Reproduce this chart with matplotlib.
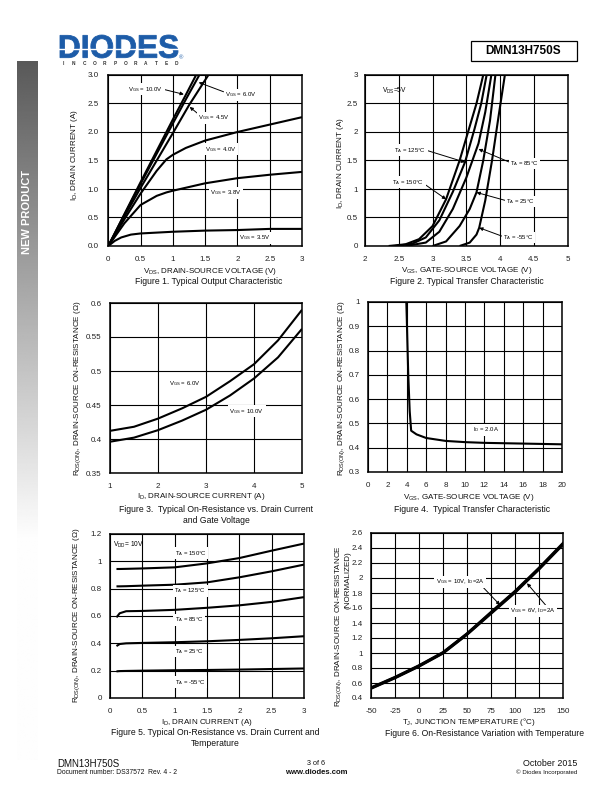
import numpy as np
import matplotlib
matplotlib.use('Agg')
import matplotlib.pyplot as plt
from matplotlib.textpath import TextPath
from matplotlib.patches import PathPatch, Rectangle
from matplotlib.font_manager import FontProperties
from matplotlib.transforms import Affine2D
from matplotlib.ticker import FormatStrFormatter

plt.rcParams['font.family'] = ['Liberation Sans', 'DejaVu Sans']
plt.rcParams['mathtext.default'] = 'regular'

# ---------------- DATA ----------------
# Figure 1: output characteristic (VDS -> ID)
f1_vds_10 = [0, 0.25, 0.5, 0.75, 1.0, 1.2, 1.36]
f1_id_10 = [0, 0.56, 1.12, 1.67, 2.22, 2.65, 3.0]
f1_vds_6 = [0, 0.25, 0.5, 0.75, 1.0, 1.2, 1.41]
f1_id_6 = [0, 0.55, 1.09, 1.62, 2.15, 2.57, 3.0]
f1_vds_45 = [0, 0.25, 0.5, 0.75, 1.0, 1.25, 1.55]
f1_id_45 = [0, 0.52, 1.02, 1.5, 1.98, 2.47, 3.0]
f1_vds_40 = [0, 0.25, 0.5, 0.75, 0.9, 1.0, 1.2, 1.5, 2.0, 2.5, 3.0]
f1_id_40 = [0, 0.47, 0.92, 1.32, 1.52, 1.6, 1.72, 1.85, 2.0, 2.13, 2.26]
f1_vds_38 = [0, 0.25, 0.5, 0.75, 0.9, 1.0, 1.5, 2.0, 2.5, 3.0]
f1_id_38 = [0, 0.4, 0.72, 0.88, 0.94, 0.97, 1.1, 1.19, 1.25, 1.3]
f1_vds_35 = [0, 0.1, 0.2, 0.35, 0.5, 1.0, 1.5, 2.0, 2.5, 3.0]
f1_id_35 = [0, 0.09, 0.15, 0.2, 0.22, 0.25, 0.27, 0.28, 0.3, 0.3]

# Figure 2: transfer characteristic (VGS -> ID)
f2_vgs_150 = [2.35, 2.6, 2.8, 3.0, 3.2, 3.4, 3.55, 3.65, 3.75]
f2_id_150 = [0, 0.03, 0.12, 0.35, 0.82, 1.5, 2.1, 2.5, 3.0]
f2_vgs_125 = [2.45, 2.7, 2.9, 3.1, 3.3, 3.48, 3.62, 3.72, 3.8]
f2_id_125 = [0, 0.04, 0.15, 0.45, 0.95, 1.47, 2.05, 2.5, 3.0]
f2_vgs_85 = [2.6, 2.9, 3.1, 3.3, 3.5, 3.68, 3.78, 3.87]
f2_id_85 = [0, 0.06, 0.25, 0.65, 1.2, 1.8, 2.35, 3.0]
f2_vgs_25 = [3.0, 3.2, 3.4, 3.55, 3.65, 3.75, 3.85, 3.93]
f2_id_25 = [0, 0.08, 0.35, 0.65, 0.94, 1.5, 2.2, 3.0]
f2_vgs_m55 = [3.4, 3.55, 3.65, 3.69, 3.78, 3.88, 3.98, 4.07]
f2_id_m55 = [0, 0.06, 0.2, 0.32, 0.8, 1.5, 2.3, 3.0]

# Figure 3: RDS(on) vs ID
f3_id = [1, 1.5, 2, 2.5, 3, 3.5, 4, 4.5, 5]
f3_r_6v = [0.412, 0.418, 0.43, 0.445, 0.462, 0.485, 0.51, 0.545, 0.59]
f3_r_10v = [0.396, 0.402, 0.413, 0.427, 0.443, 0.464, 0.489, 0.52, 0.562]

# Figure 4: RDS(on) vs VGS
f4_vgs = [3.95, 4.0, 4.05, 4.15, 4.3, 4.45, 5, 6, 8, 10, 12, 16, 20]
f4_r = [1.0, 0.93, 0.85, 0.7, 0.55, 0.47, 0.455, 0.44, 0.428, 0.423, 0.42, 0.417, 0.414]

# Figure 5: RDS(on) vs ID and temperature
f5_id = [0.1, 0.15, 0.25, 0.5, 1.0, 1.5, 2.0, 2.5, 3.0]
f5_r_150 = [0.944, 0.944, 0.945, 0.948, 0.956, 0.985, 1.024, 1.078, 1.13]
f5_r_125 = [0.817, 0.817, 0.818, 0.822, 0.829, 0.846, 0.883, 0.927, 0.976]
f5_r_85 = [0.59, 0.62, 0.635, 0.637, 0.645, 0.66, 0.678, 0.703, 0.738]
f5_r_25 = [0.38, 0.395, 0.4, 0.403, 0.408, 0.415, 0.425, 0.437, 0.452]
f5_r_m55 = [0.195, 0.197, 0.198, 0.2, 0.203, 0.205, 0.208, 0.212, 0.216]

# Figure 6: normalized RDS(on) vs temperature
f6_tj = [-50, -25, 0, 25, 50, 75, 100, 125, 150]
f6_r_10v = [0.53, 0.67, 0.825, 1.0, 1.25, 1.53, 1.81, 2.12, 2.45]
f6_r_6v = [0.535, 0.675, 0.83, 1.005, 1.255, 1.54, 1.82, 2.13, 2.46]

# tick values
f1_xt = [0, 0.5, 1, 1.5, 2, 2.5, 3]
f1_yt = [0, 0.5, 1, 1.5, 2, 2.5, 3]
f2_xt = [2, 2.5, 3, 3.5, 4, 4.5, 5]
f2_yt = [0, 0.5, 1, 1.5, 2, 2.5, 3]
f3_xt = [1, 2, 3, 4, 5]
f3_yt = [0.35, 0.4, 0.45, 0.5, 0.55, 0.6]
f4_xt = [0, 2, 4, 6, 8, 10, 12, 14, 16, 18, 20]
f4_yt = [0.3, 0.4, 0.5, 0.6, 0.7, 0.8, 0.9, 1.0]
f5_xt = [0, 0.5, 1, 1.5, 2, 2.5, 3]
f5_yt = [0, 0.2, 0.4, 0.6, 0.8, 1.0, 1.2]
f6_xt = [-50, -25, 0, 25, 50, 75, 100, 125, 150]
f6_yt = [0.4, 0.6, 0.8, 1.0, 1.2, 1.4, 1.6, 1.8, 2.0, 2.2, 2.4, 2.6]

# ---------------- FIGURE ----------------
W, H = 612, 792
fig = plt.figure(figsize=(6.12, 7.92), dpi=100)
bg = fig.add_axes([0, 0, 1, 1], zorder=0)
bg.axis('off')


def add_ax(l, t, r, b):
    return fig.add_axes([l / W, 1 - b / H, (r - l) / W, (b - t) / H], zorder=2)


def style(ax, xlim, ylim, xt, yt, yfmt='%g', ypad=5):
    ax.set_xlim(xlim)
    ax.set_ylim(ylim)
    ax.set_xticks(xt)
    ax.set_yticks(yt)
    ax.xaxis.set_major_formatter(FormatStrFormatter('%g'))
    ax.yaxis.set_major_formatter(FormatStrFormatter(yfmt))
    ax.grid(True, color='k', lw=0.8)
    ax.set_axisbelow(True)
    ax.tick_params(length=0, labelsize=5.8, labelcolor='#222')
    ax.tick_params(axis='x', pad=7)
    ax.tick_params(axis='y', pad=ypad)
    for s in ax.spines.values():
        s.set_linewidth(1.1)


CURVE = dict(color='k', lw=1.5, solid_capstyle='butt')
LBL = dict(fontsize=4.3, ha='center', va='center',
           bbox=dict(fc='white', ec='none', pad=1.0))


def arrow(relpos):
    return dict(arrowstyle='-|>', color='k', lw=0.7, mutation_scale=5,
                relpos=relpos, shrinkA=0, shrinkB=0)


# ---- Figure 1
a1 = add_ax(108.3, 75, 302, 246)
style(a1, (0, 3), (0, 3), f1_xt, f1_yt, '%.1f', ypad=7)
for xs, ys in [(f1_vds_10, f1_id_10), (f1_vds_6, f1_id_6), (f1_vds_45, f1_id_45),
               (f1_vds_40, f1_id_40), (f1_vds_38, f1_id_38), (f1_vds_35, f1_id_35)]:
    a1.plot(xs, ys, **CURVE)
a1.annotate('V$_{GS}$ = 10.0V', xy=(1.17, 2.66), xytext=(0.58, 2.75), arrowprops=arrow((1, 0.5)), **LBL)
a1.annotate('V$_{GS}$ = 6.0V', xy=(1.40, 2.87), xytext=(2.05, 2.65), arrowprops=arrow((0, 0.8)), **LBL)
a1.annotate('V$_{GS}$ = 4.5V', xy=(1.26, 2.44), xytext=(1.64, 2.25), arrowprops=arrow((0, 0.9)), **LBL)
a1.text(1.74, 1.70, 'V$_{GS}$ = 4.0V', **LBL)
a1.text(1.82, 0.93, 'V$_{GS}$ = 3.8V', **LBL)
a1.text(2.27, 0.14, 'V$_{GS}$ = 3.5V', **LBL)

# ---- Figure 2
a2 = add_ax(365, 75, 567.7, 246)
style(a2, (2, 5), (0, 3), f2_xt, f2_yt, ypad=5)
for xs, ys in [(f2_vgs_150, f2_id_150), (f2_vgs_125, f2_id_125), (f2_vgs_85, f2_id_85),
               (f2_vgs_25, f2_id_25), (f2_vgs_m55, f2_id_m55)]:
    a2.plot(xs, ys, **CURVE)
a2.text(2.25, 2.72, 'V$_{DS}$=5V', fontsize=4.8, ha='left', va='center')
a2.annotate('T$_A$ = 125°C', xy=(3.48, 1.47), xytext=(2.67, 1.68), arrowprops=arrow((1, 0.5)), **LBL)
a2.annotate('T$_A$ = 150°C', xy=(3.2, 0.82), xytext=(2.64, 1.12), arrowprops=arrow((1, 0.3)), **LBL)
a2.annotate('T$_A$ = 85°C', xy=(3.68, 1.70), xytext=(4.36, 1.45), arrowprops=arrow((0, 0.6)), **LBL)
a2.annotate('T$_A$ = 25°C', xy=(3.65, 0.94), xytext=(4.30, 0.78), arrowprops=arrow((0, 0.6)), **LBL)
a2.annotate('T$_A$ = -55°C', xy=(3.69, 0.32), xytext=(4.27, 0.15), arrowprops=arrow((0, 0.6)), **LBL)

# ---- Figure 3
a3 = add_ax(110, 303, 302, 473)
style(a3, (1, 5), (0.35, 0.6), f3_xt, f3_yt, ypad=6)
a3.plot(f3_id, f3_r_6v, **CURVE)
a3.plot(f3_id, f3_r_10v, **CURVE)
a3.text(2.55, 0.482, 'V$_{GS}$ = 6.0V', **LBL)
a3.text(3.85, 0.441, 'V$_{GS}$ = 10.0V', **LBL)

# ---- Figure 4
a4 = add_ax(368, 302, 562, 472)
style(a4, (0, 20), (0.3, 1.0), f4_xt, f4_yt, ypad=6)
a4.plot(f4_vgs, f4_r, **CURVE)
a4.text(12.2, 0.473, 'I$_D$ = 2.0A', **LBL)

# ---- Figure 5
a5 = add_ax(110, 534, 304, 698)
style(a5, (0, 3), (0, 1.2), f5_xt, f5_yt, ypad=6)
for ys in [f5_r_150, f5_r_125, f5_r_85, f5_r_25, f5_r_m55]:
    a5.plot(f5_id, ys, **CURVE)
a5.text(0.05, 1.12, 'V$_{DD}$= 10V', fontsize=4.8, ha='left', va='center')
a5.text(1.25, 1.06, 'T$_A$ = 150°C', **LBL)
a5.text(1.24, 0.785, 'T$_A$ = 125°C', **LBL)
a5.text(1.22, 0.573, 'T$_A$ = 85°C', **LBL)
a5.text(1.23, 0.341, 'T$_A$ = 25°C', **LBL)
a5.text(1.24, 0.115, 'T$_A$ = -55°C', **LBL)

# ---- Figure 6
a6 = add_ax(371, 533, 563, 698)
style(a6, (-50, 150), (0.4, 2.6), f6_xt, f6_yt, ypad=6)
a6.plot(f6_tj, f6_r_10v, color='k', lw=2.2)
a6.plot(f6_tj, f6_r_6v, color='k', lw=2.2)
a6.annotate('V$_{GS}$ = 10V, I$_D$=2A', xy=(84.4, 1.64), xytext=(42.7, 1.95), arrowprops=arrow((0.95, 0)), **LBL)
a6.annotate('V$_{GS}$ = 6V, I$_D$=2A', xy=(112.5, 1.93), xytext=(119, 1.56), arrowprops=arrow((0.8, 1)), **LBL)

# ---- axis labels & captions (page pixel coordinates)
AX = dict(fontsize=5.8, ha='center', va='center', color='#111')
CAP = dict(fontsize=6.2, ha='center', va='center', color='#111')
bg.text(210, 271.5, 'V$_{DS}$, DRAIN-SOURCE VOLTAGE (V)', **AX)
bg.text(209, 282, 'Figure 1. Typical Output Characteristic', **CAP)
bg.text(75, 155, 'I$_D$, DRAIN CURRENT (A)', rotation=90, **AX)

bg.text(467, 270.5, 'V$_{GS}$, GATE-SOURCE VOLTAGE (V)', **AX)
bg.text(467, 281, 'Figure 2. Typical Transfer Characteristic', **CAP)
bg.text(340, 163, 'I$_D$, DRAIN CURRENT (A)', rotation=90, **AX)

bg.text(201, 497, 'I$_D$, DRAIN-SOURCE CURRENT (A)', **AX)
bg.text(216, 515, 'Figure 3.  Typical On-Resistance vs. Drain Current\nand Gate Voltage', linespacing=1.25, **CAP)
bg.text(78, 388, 'R$_{DS(ON)}$, DRAIN-SOURCE ON-RESISTANCE (Ω)', rotation=90, **AX)

bg.text(469, 497.5, 'V$_{GS}$, GATE-SOURCE VOLTAGE (V)', **AX)
bg.text(472, 509.5, 'Figure 4.  Typical Transfer Characteristic', **CAP)
bg.text(342, 388, 'R$_{DS(ON)}$, DRAIN-SOURCE ON-RESISTANCE (Ω)', rotation=90, **AX)

bg.text(207, 722, 'I$_D$, DRAIN CURRENT (A)', **AX)
bg.text(215, 738, 'Figure 5. Typical On-Resistance vs. Drain Current and\nTemperature', linespacing=1.25, **CAP)
bg.text(77, 615, 'R$_{DS(ON)}$, DRAIN-SOURCE ON-RESISTANCE (Ω)', rotation=90, **AX)

bg.text(469, 722, 'T$_J$, JUNCTION TEMPERATURE (°C)', **AX)
bg.text(485, 733.5, 'Figure 6. On-Resistance Variation with Temperature', **CAP)
bg.text(339, 626, 'R$_{DS(ON)}$, DRAIN-SOURCE ON-RESISTANCE', rotation=90, **AX)
bg.text(348, 580, '(NORMALIZED)', rotation=90, **AX)

# ---- sidebar gradient
ys = np.linspace(61, 760, 500)
g = np.clip(0.35 + 0.00135 * (ys - 61), 0, 0.995)
img = np.repeat(g[:, None], 2, axis=1)
bg.imshow(img, cmap='gray', vmin=0, vmax=1, extent=[17, 38, 760, 61],
          aspect='auto', interpolation='bilinear', zorder=1)
bg.text(27.5, 212, 'NEW PRODUCT', rotation=90, color='white', fontsize=8,
        fontweight='bold', ha='center', va='center', zorder=3)

# ---- logo
fp = FontProperties(family='Liberation Sans', weight='bold')
tp = TextPath((0, 0), 'DIODES', size=10, prop=fp)
bb = tp.get_extents()
tr = Affine2D().translate(-bb.x0, -bb.y0).scale(118 / bb.width, -23 / bb.height).translate(60, 58)
bg.add_patch(PathPatch(tr.transform_path(tp), fc='#1d5ca8', ec='#1d5ca8', lw=0.6, zorder=3))
bg.plot([58, 180], [48.6, 48.6], color='white', lw=1.0, zorder=4)
for i, ch in enumerate('INCORPORATED'):
    bg.text(63.5 + i * 10.3, 63.5, ch, fontsize=3.4, fontweight='bold', color='#333',
            ha='center', va='center')
bg.text(181, 58, '®', fontsize=4.2, color='#1d5ca8', ha='center', va='center')

# ---- part number box
bg.add_patch(Rectangle((470.5, 40.5), 106, 20.5, fill=False, lw=0.9, ec='k', zorder=3))
bg.text(523.5, 51, 'DMN13H750S', fontsize=8.5, fontweight='bold', ha='center', va='center')

# ---- footer
bg.text(57, 764, 'DMN13H750S', fontsize=7, ha='left', va='center', color='#111')
bg.text(57, 773, 'Document number: DS37572  Rev. 4 - 2', fontsize=4.9, ha='left', va='center', color='#111')
bg.text(316, 763.5, '3 of 6', fontsize=5.2, ha='center', va='center', color='#111')
bg.text(316, 772, 'www.diodes.com', fontsize=5.6, fontweight='bold', ha='center', va='center', color='#111')
bg.text(577, 764, 'October 2015', fontsize=6.4, ha='right', va='center', color='#111')
bg.text(577, 772.5, '© Diodes Incorporated', fontsize=4.4, ha='right', va='center', color='#111')

bg.set_xlim(0, W)
bg.set_ylim(H, 0)

fig.savefig('out.png', dpi=100)
